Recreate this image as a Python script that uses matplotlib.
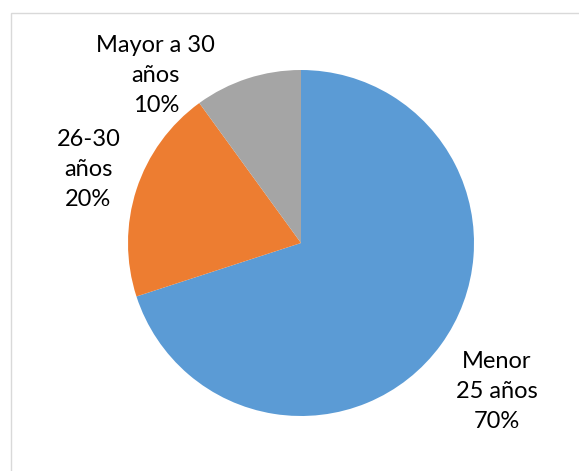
import numpy as np
import matplotlib
matplotlib.use("Agg")
import matplotlib.pyplot as plt
from matplotlib.patches import Rectangle

categories = ["Menor\n25 años", "26-30\naños", "Mayor a 30\naños"]
shares = [70, 20, 10]
colors = ["#5B9BD5", "#ED7D31", "#A5A5A5"]

plt.rcParams['font.family'] = ['Lato', 'DejaVu Sans']

fig = plt.figure(figsize=(5.79, 4.71), dpi=100)
W, H = 579, 471
cx, cy, r = 301, 243, 173
ax = fig.add_axes([(cx - r) / W, (H - cy - r) / H, 2 * r / W, 2 * r / H])

wedges, _ = ax.pie(shares, colors=colors, startangle=90, counterclock=False,
                   radius=1, wedgeprops=dict(linewidth=0))
ax.set_xlim(-1, 1)
ax.set_ylim(-1, 1)
ax.set_aspect('equal')
ax.axis('off')

# label placement (distance from centre, angle) like Excel's best fit
place = [(1.42, -37.2), (1.30, 161), (1.28, 131)]
for w, cat, pct, (d, ang) in zip(wedges, categories, shares, place):
    if ang is None:
        ang = (w.theta1 + w.theta2) / 2
    t = np.deg2rad(ang)
    ax.text(d * np.cos(t), d * np.sin(t), "%s\n%d%%" % (cat, pct),
            ha='center', va='center', fontsize=17, linespacing=1.53,
            color='#000000', clip_on=False)

fig.add_artist(Rectangle((11 / W, -0.1), 1.2, (H - 13) / H + 0.1,
                         transform=fig.transFigure, fill=False,
                         edgecolor='#D9D9D9', linewidth=1))

fig.savefig("out.png", dpi=100)
